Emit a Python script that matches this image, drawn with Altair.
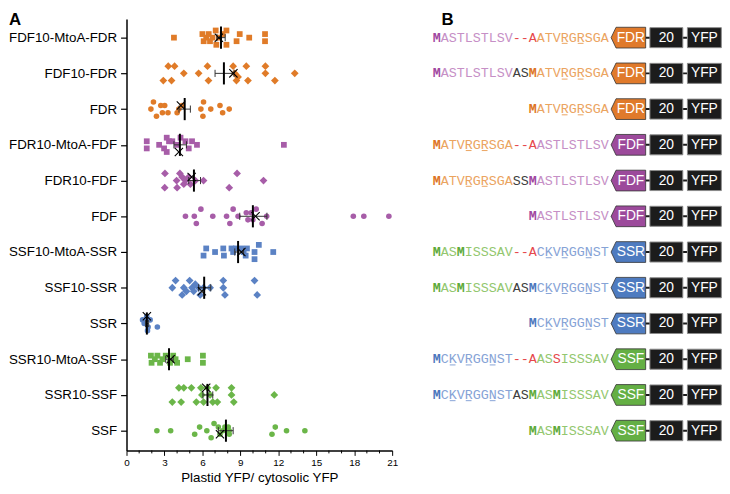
import altair as alt
import pandas as pd

# ---------------- Panel A data ----------------
row_names = ["FDF10-MtoA-FDR", "FDF10-FDR", "FDR",
             "FDR10-MtoA-FDF", "FDR10-FDF", "FDF",
             "SSF10-MtoA-SSR", "SSF10-SSR", "SSR",
             "SSR10-MtoA-SSF", "SSR10-SSF", "SSF"]
row_group = ["FDR", "FDR", "FDR", "FDF", "FDF", "FDF",
             "SSR", "SSR", "SSR", "SSF", "SSF", "SSF"]
row_kind = ["MtoA", "fusion", "native"] * 4

vals = [
    [3.75, 6.0, 6.1, 6.3, 6.5, 6.6, 6.8, 7.05, 7.1, 7.3, 7.6, 7.9, 7.9, 8.7, 8.95, 9.7, 10.95, 10.95],
    [2.91, 3.30, 3.56, 3.80, 4.53, 5.70, 6.40, 6.48, 8.43, 8.56, 8.69, 8.82, 9.47, 9.60, 10.98, 10.98, 11.73, 13.3],
    [1.93, 2.13, 2.37, 2.71, 2.84, 3.02, 3.28, 4.0, 4.14, 4.4, 5.88, 6.04, 6.09, 6.66, 7.39, 7.6, 8.12],
    [1.6, 1.6, 2.58, 2.97, 3.18, 3.18, 3.36, 3.62, 4.0, 4.27, 4.66, 4.92, 5.18, 5.57, 12.44],
    [3.02, 3.04, 3.96, 4.0, 4.22, 4.4, 4.53, 4.66, 4.92, 5.05, 5.44, 6.09, 8.12, 8.74, 10.83],
    [4.66, 5.36, 5.52, 5.88, 6.82, 7.91, 8.17, 8.43, 8.82, 9.47, 9.6, 9.86, 9.99, 10.25, 10.72, 11.08, 17.93, 18.76, 20.74],
    [6.09, 6.3, 7.0, 7.65, 7.7, 8.3, 8.43, 8.64, 9.08, 9.26, 9.42, 9.52, 10.12, 10.12, 10.46, 11.6],
    [3.62, 3.88, 4.4, 4.53, 4.74, 4.99, 5.18, 5.31, 5.44, 5.7, 5.83, 6.09, 6.61, 7.65, 7.65, 7.78, 10.12, 10.33],
    [1.27, 1.4, 1.54, 1.66, 1.71, 1.87, 1.6, 2.44],
    [1.93, 1.98, 2.24, 2.44, 2.65, 2.84, 3.1, 3.44, 3.69, 3.88, 4.0, 4.84, 6.04, 6.04],
    [3.62, 4.14, 4.32, 4.53, 5.13, 5.52, 5.88, 5.96, 6.09, 6.4, 6.61, 6.82, 7.08, 7.18, 8.3, 8.3, 8.48, 11.68],
    [2.4, 3.49, 5.39, 5.78, 6.35, 6.69, 6.92, 7.26, 7.39, 7.6, 7.78, 8.04, 8.12, 8.12, 11.5, 11.76, 12.65, 14.1],
]
lanes = [
    [0, -1, 1, 0, -1, 1, 0, -2, 2, 0, -1, -2, 2, 1, -1, 0, -1, 1],
    [2, -2, 2, -2, 0, 0, -2, 2, -2, 0, 2, 1, -2, 2, -2, 0, 2, 0],
    [0, -2, 2, -1, 1, -1, 1, 1, 0, -1, 0, 2, -2, 0, -1, 1, 0],
    [-1, 1, 0, 1, 2, -2, -1, -1, 0, -2, -1, 1, -1, 0, 0],
    [2, -2, 0, 2, -2, -1, 1, 0, -1, 1, 0, 0, 2, -2, 0],
    [0, 0, 2, -2, 0, 0, 2, -2, 0, -1, 1, -1, 1, -2, 2, 0, 0, 0, 0],
    [1, -1, 0, -1, 1, -1, 0, -1, -1, 0, 1, -1, 0, 2, -2, 0],
    [0, -2, 2, 0, 1, -2, 0, 1, -1, 0, 2, 0, 0, -2, 0, 2, -2, 2],
    [-1, 0, -1, 2, 1, -1, -2, 1],
    [-1, 1, 0, -1, 1, 0, -1, 1, -1, 0, 1, 0, -1, 1],
    [2, -2, 2, -2, -2, 2, -2, 0, 2, -2, 0, 2, -2, 2, -2, 0, 2, 0],
    [0, 0, 1, -1, 0, 2, -2, -1, 1, 0, -1, -1, 1, 0, 1, -1, 0, 0],
]
mean_line = [7.47, 7.7, 4.6, 4.22, 5.33, 9.99, 8.82, 6.14, 1.61, 3.36, 6.4, 7.86]
x_mark = [7.3, 8.45, 4.3, 4.14, 5.15, 10.2, 9.08, 5.96, 1.61, 3.49, 6.3, 7.39]
x_lane = [0, 0, -1, 2, -1, 0, 0, 1, -2, 0, -2, 1]
err_lo = [7.15, 7.0, 4.15, 3.75, 4.92, 8.95, 8.56, 5.7, 1.5, 3.1, 6.04, 7.26]
err_hi = [7.8, 8.5, 5.05, 4.74, 5.85, 11.1, 9.26, 6.66, 1.75, 3.69, 6.82, 8.43]
x_ticks = [0, 3, 6, 9, 12, 15, 18, 21]
x_minor = [1, 2, 4, 5, 7, 8, 10, 11, 13, 14, 16, 17, 19, 20]

# ---------------- Panel B data ----------------
seqs = ["MASTLSTLSV--AATVRGRSGA", "MASTLSTLSVASMATVRGRSGA", "MATVRGRSGA",
        "MATVRGRSGA--AASTLSTLSV", "MATVRGRSGASSMASTLSTLSV", "MASTLSTLSV",
        "MASMISSSAV--ACKVRGGNST", "MASMISSSAVASMCKVRGGNST", "MCKVRGGNST",
        "MCKVRGGNST--AASSISSSAV", "MCKVRGGNSTASMASMISSSAV", "MASMISSSAV"]
seq_codes = ["P" + "p" * 9 + "rrr" + "o" * 9,
             "P" + "p" * 9 + "kk" + "O" + "o" * 9,
             "O" + "o" * 9,
             "O" + "o" * 9 + "rrr" + "p" * 9,
             "O" + "o" * 9 + "kk" + "P" + "p" * 9,
             "P" + "p" * 9,
             "GggG" + "g" * 6 + "rrr" + "b" * 9,
             "GggG" + "g" * 6 + "kk" + "B" + "b" * 9,
             "B" + "b" * 9,
             "B" + "b" * 9 + "rrr" + "ggrgggggg",
             "B" + "b" * 9 + "kk" + "GggG" + "g" * 6,
             "GggG" + "g" * 6]
underlined = [[16, 18], [16, 18], [4, 6], [4, 6], [4, 6], [],
              [14, 16, 19], [14, 16, 19], [2, 4, 7], [2, 4, 7], [2, 4, 7], []]

# ---------------- styles ----------------
group_dom = ["FDR", "FDF", "SSR", "SSF"]
group_pt_col = ["#E07B28", "#A75DA8", "#5B82C4", "#6BB649"]
group_box_col = ["#E07A2B", "#9C4A9B", "#4E7BC0", "#64AF44"]
code_dom = ["p", "P", "o", "O", "b", "B", "g", "G", "r", "k"]
code_rng = ["#C68FC6", "#A1479F", "#EBA45F", "#DD7424", "#86A3D6", "#4C77BD",
            "#93C76F", "#5DAA38", "#E6484C", "#404040"]
kind_style = [("MtoA", "square", 34), ("fusion", "diamond", 62), ("native", "circle", 32)]
FONT = "Liberation Sans"
MONO = "Liberation Mono"
LANE = 0.1

pts = []
for r in range(12):
    for v, l in zip(vals[r], lanes[r]):
        pts.append({"row": r, "val": v, "lane": l, "grp": row_group[r], "kind": row_kind[r]})
df_pts = pd.DataFrame(pts)
df_stats = pd.DataFrame({"row": list(range(12)), "mean": mean_line, "xm": x_mark,
                         "xl": x_lane, "lo": err_lo, "hi": err_hi})
df_minor = pd.DataFrame({"t": x_minor})

W_A, H = 269, 437
yscale = alt.Scale(domain=[-0.525, 11.553], reverse=True, nice=False, zero=False)
xscale = alt.Scale(domain=[0, 21], nice=False, zero=False)
label_expr = "[" + ",".join("'%s'" % n for n in row_names) + "][datum.value]"

yaxis = alt.Axis(values=list(range(12)), labelExpr=label_expr, tickSize=6, labelPadding=4,
                 labelFontSize=13.5, labelFont=FONT, labelColor="black", domainColor="black",
                 domainWidth=1.5, tickColor="black", tickWidth=1.2, grid=False, title=None,
                 labelOverlap=False, labelBound=False)
xaxis = alt.Axis(values=x_ticks, tickSize=5, labelFontSize=10, labelPadding=2, labelFont=FONT,
                 labelColor="black", labelFlush=False, labelOverlap=False, labelBound=False,
                 title="Plastid YFP/ cytosolic YFP",
                 titleFontSize=13.5, titleFont=FONT, titleFontWeight="normal", titleColor="black",
                 titlePadding=3, domainColor="black", domainWidth=1.5, tickColor="black",
                 tickWidth=1, grid=False)

def X(field):
    return alt.X(field, scale=xscale, axis=xaxis)

def Y(field):
    return alt.Y(field, scale=yscale, axis=yaxis)

pt_color = alt.Color("grp:N", scale=alt.Scale(domain=group_dom, range=group_pt_col), legend=None)
point_layers = []
for kind, shp, sz in kind_style:
    point_layers.append(
        alt.Chart(df_pts).transform_filter(alt.datum.kind == kind).transform_calculate(
            yp="datum.row + datum.lane * %f" % LANE
        ).mark_point(filled=True, opacity=1, shape=shp, size=sz, strokeWidth=0).encode(
            x=X("val:Q"), y=Y("yp:Q"), color=pt_color))

stats = alt.Chart(df_stats)
err_h = stats.mark_rule(color="#333333", strokeWidth=1).encode(
    x=X("lo:Q"), x2="hi:Q", y=Y("row:Q"))
err_caps = stats.transform_fold(["lo", "hi"], as_=["k", "v"]).transform_calculate(
    c0="datum.row - 0.1", c1="datum.row + 0.1"
).mark_rule(color="#333333", strokeWidth=1).encode(
    x=X("v:Q"), y=Y("c0:Q"), y2="c1:Q")
mean_rule = stats.transform_calculate(
    m0="datum.row - 0.31", m1="datum.row + 0.31"
).mark_rule(color="black", strokeWidth=2).encode(
    x=X("mean:Q"), y=Y("m0:Q"), y2="m1:Q")
x_pts = stats.transform_calculate(
    ym="datum.row + datum.xl * %f" % LANE
).mark_point(shape="M-1,-1L1,1M-1,1L1,-1", filled=False, size=70, color="black",
             strokeWidth=1.1, opacity=1).encode(
    x=X("xm:Q"), y=Y("ym:Q"))
minor = alt.Chart(df_minor).mark_rule(color="black", strokeWidth=1).encode(
    x=X("t:Q"), y=alt.value(H), y2=alt.value(H + 3))
lab_a = alt.Chart(pd.DataFrame({"t": ["A"]})).mark_text(
    font=FONT, fontSize=17, fontWeight="bold", align="left", baseline="alphabetic", color="black"
).encode(text="t:N", x=alt.value(-119), y=alt.value(6))

panel_a = alt.layer(*point_layers, err_h, err_caps, mean_rule, x_pts, minor, lab_a).properties(
    width=W_A, height=H)

# ---------------- Panel B ----------------
CH = 8.1                      # px per character column
W_B = 293
CHEV = (22.31, 26.63)
BOX2 = (27.16, 31.27)
BOX3 = (31.85, 36.09)
CHEV_BODY_L = 22.93

chars = []
for r, (s, c, u) in enumerate(zip(seqs, seq_codes, underlined)):
    n = len(s)
    for j, ch in enumerate(s):
        chars.append({"row": r, "xc": 22 - n + j + 0.5, "ch": ch, "code": c[j],
                      "bold": c[j].isupper(), "ul": j in u})
df_ch = pd.DataFrame(chars)
df_box = pd.DataFrame({"row": list(range(12)), "grp": row_group})

xs_b = alt.Scale(domain=[0, W_B / CH], nice=False, zero=False)
ys_b = alt.Scale(domain=[-0.525, 11.553], reverse=True, nice=False, zero=False)
code_scale = alt.Scale(domain=code_dom, range=code_rng)

def char_layer(bold):
    return alt.Chart(df_ch).transform_filter(
        "datum.bold" if bold else "!datum.bold"
    ).mark_text(font=MONO, fontSize=13.5, fontWeight="bold" if bold else "normal",
                align="center", baseline="middle").encode(
        x=alt.X("xc:Q", scale=xs_b, axis=None),
        y=alt.Y("row:Q", scale=ys_b, axis=None),
        text="ch:N",
        color=alt.Color("code:N", scale=code_scale, legend=None))

ul = alt.Chart(df_ch).transform_filter("datum.ul").transform_calculate(
    u0="datum.xc - 0.36", u1="datum.xc + 0.36", uy="datum.row + 0.16"
).mark_rule(strokeWidth=1).encode(
    x=alt.X("u0:Q", scale=xs_b, axis=None), x2="u1:Q",
    y=alt.Y("uy:Q", scale=ys_b, axis=None),
    color=alt.Color("code:N", scale=code_scale, legend=None))

boxes = alt.Chart(df_box)
conn = boxes.transform_calculate(c0=str(CHEV[1]), c1=str(BOX3[0])).mark_rule(
    color="#1a1a1a", strokeWidth=2).encode(
    x=alt.X("c0:Q", scale=xs_b, axis=None), x2="c1:Q",
    y=alt.Y("row:Q", scale=ys_b, axis=None))
chev_w = (CHEV[1] - CHEV[0]) * CH
tip = 2 * (CHEV_BODY_L - CHEV[0]) / (CHEV[1] - CHEV[0]) - 1
hh = 21.0 / chev_w
chev_path = "M%.3f,%.3fL1,%.3fL1,%.3fL%.3f,%.3fL-1,0Z" % (tip, -hh, -hh, hh, tip, hh)
chev = boxes.transform_calculate(cx=str((CHEV[0] + CHEV[1]) / 2)).mark_point(
    shape=chev_path, size=chev_w ** 2, filled=True, opacity=1, stroke="#333333",
    strokeWidth=0.8).encode(
    x=alt.X("cx:Q", scale=xs_b, axis=None),
    y=alt.Y("row:Q", scale=ys_b, axis=None),
    color=alt.Color("grp:N", scale=alt.Scale(domain=group_dom, range=group_box_col), legend=None))
chev_txt = boxes.transform_calculate(cx=str((CHEV_BODY_L + CHEV[1]) / 2)).mark_text(
    font=FONT, fontSize=14, color="white", align="center", baseline="middle").encode(
    x=alt.X("cx:Q", scale=xs_b, axis=None),
    y=alt.Y("row:Q", scale=ys_b, axis=None), text="grp:N")

def dark_box(x0, x1, label):
    rect = boxes.transform_calculate(
        b0=str(x0), b1=str(x1), r0="datum.row - 0.28", r1="datum.row + 0.28"
    ).mark_rect(color="#1c1c1c", stroke="#8a8a8a", strokeWidth=1).encode(
        x=alt.X("b0:Q", scale=xs_b, axis=None), x2="b1:Q",
        y=alt.Y("r0:Q", scale=ys_b, axis=None), y2="r1:Q")
    txt = boxes.transform_calculate(
        bx=str((x0 + x1) / 2), lb="'%s'" % label
    ).mark_text(font=FONT, fontSize=14, color="white", align="center", baseline="middle").encode(
        x=alt.X("bx:Q", scale=xs_b, axis=None),
        y=alt.Y("row:Q", scale=ys_b, axis=None), text="lb:N")
    return rect + txt

lab_b = alt.Chart(pd.DataFrame({"t": ["B"]})).mark_text(
    font=FONT, fontSize=17, fontWeight="bold", align="left", baseline="alphabetic", color="black"
).encode(text="t:N", x=alt.value(9), y=alt.value(6))

panel_b = alt.layer(conn, chev, chev_txt, dark_box(*BOX2, "20"), dark_box(*BOX3, "YFP"),
                    ul, char_layer(False), char_layer(True), lab_b).resolve_scale(
    color="independent").properties(width=W_B, height=H)

chart = alt.hconcat(panel_a, panel_b, spacing=34).resolve_scale(
    color="independent", x="independent", y="independent"
).properties(padding=0).configure_view(stroke=None)

chart.save("out.html", embed_options={"renderer": "svg", "actions": False})
